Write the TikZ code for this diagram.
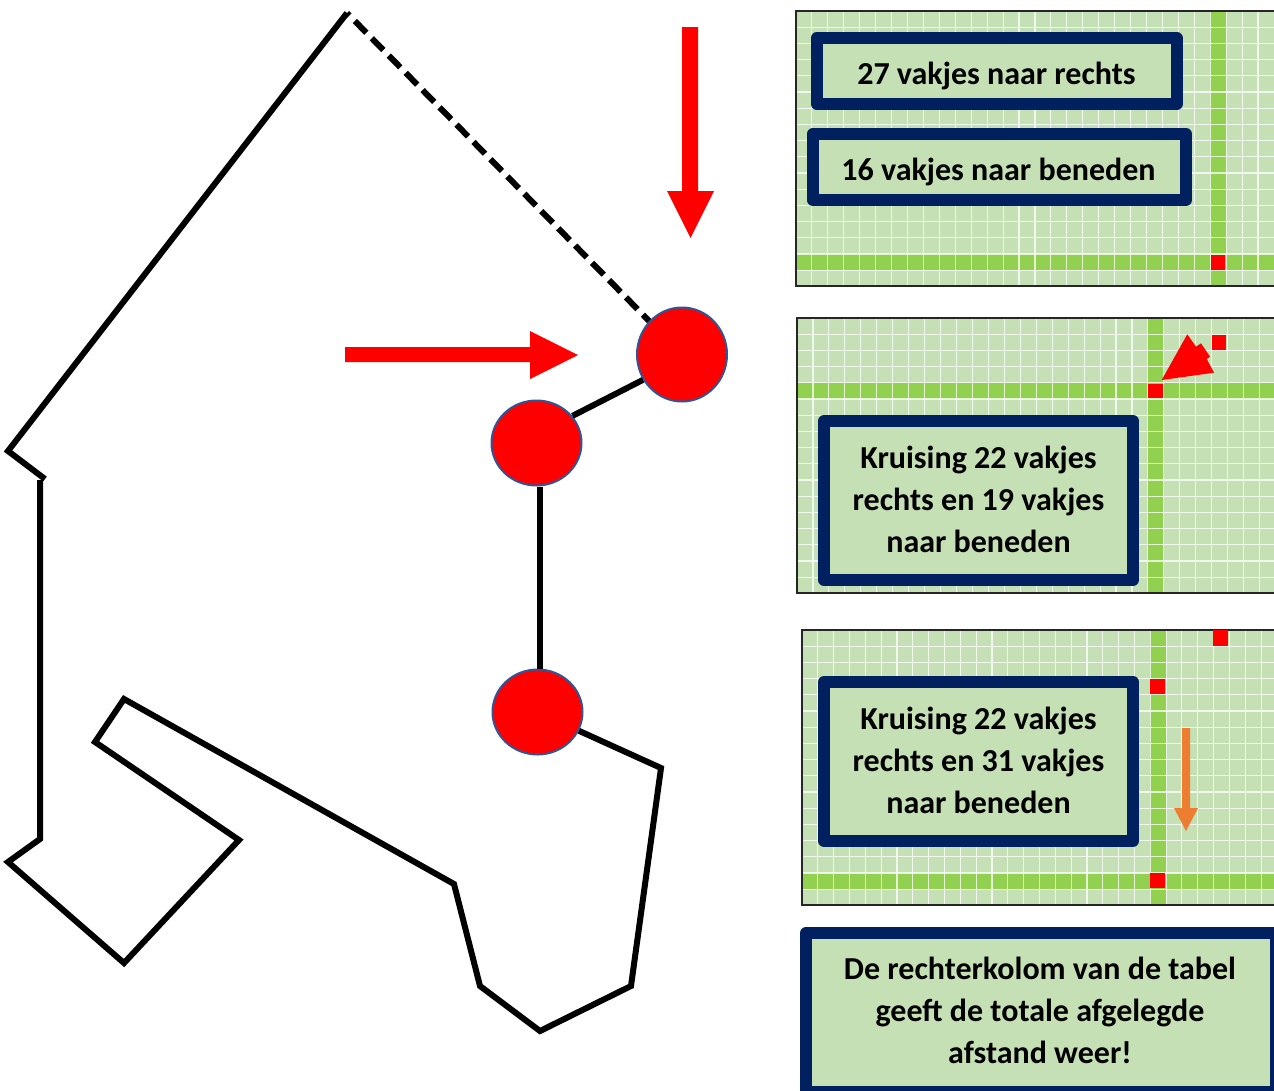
\documentclass[tikz,border=0pt]{standalone}
\usepackage{fontspec}
\setmainfont{Carlito}
\usetikzlibrary{shapes.geometric}
\definecolor{navy}{HTML}{002060}
\definecolor{pale}{HTML}{C5E0B4}
\definecolor{band}{HTML}{92D050}
\definecolor{ringblue}{HTML}{2F5597}
\definecolor{orangearrow}{HTML}{ED7D31}
\tikzset{
  route/.style={line width=6pt,line join=miter,line cap=butt},
  dashroute/.style={route,dash pattern=on 16.5pt off 7.7pt,dash phase=13pt},
  stopdot/.style={ellipse,draw=ringblue,line width=2pt,fill=red,inner sep=0pt,minimum width=89pt},
  infobox/.style={draw=navy,fill=pale,line width=12pt,line join=round,inner sep=0pt,
    align=center,font=\bfseries\fontsize{32}{42}\selectfont,text=black},
  boxtext/.style={align=center,font=\bfseries\fontsize{32}{42}\selectfont,text=black},
  gridline/.style={white,line width=1.1pt,opacity=.75},
  panelframe/.style={draw=black!85,line width=2pt},
  redcell/.style={fill=red},
  blockred/.style={fill=red},
}
% x0 y0 pitchx pitchy greencol greenrow lastcol
\newcommand{\gridpanel}[7]{%
  \fill[pale] (#1,#2) rectangle (1280,#2+17*#4);
  \fill[band] (#1+#5*#3,#2) rectangle (#1+#5*#3+#3,#2+17*#4);
  \fill[band] (#1,#2+#6*#4) rectangle (1280,#2+#6*#4+#4);
  \foreach \k in {1,...,#7} {\draw[gridline] (#1+\k*#3,#2) -- (#1+\k*#3,#2+17*#4);}
  \foreach \k in {1,...,16} {\draw[gridline] (#1,#2+\k*#4) -- (1280,#2+\k*#4);}
  \draw[panelframe] (#1,#2) rectangle (1280,#2+17*#4);
}
\begin{document}
\begin{tikzpicture}[x=1pt,y=-1pt]
\useasboundingbox (0,0) rectangle (1274,1090);

% route vertices
\coordinate (a) at (347,13);
\coordinate (b) at (8,451);
\coordinate (c) at (45,479);
\coordinate (d) at (40,480);
\coordinate (e) at (40,839);
\coordinate (f) at (8,862);
\coordinate (g) at (124,963);
\coordinate (h) at (239,840);
\coordinate (i) at (95,742);
\coordinate (j) at (124,699);
\coordinate (k) at (454,884);
\coordinate (l) at (480,986);
\coordinate (m) at (540,1031);
\coordinate (n) at (631,986);
\coordinate (o) at (661,768);

% stops
\node[stopdot,minimum height=94pt,minimum width=90pt] (s1) at (682,354.5) {};
\node[stopdot,minimum height=85pt,minimum width=90pt] (s2) at (536.5,443) {};
\node[stopdot,minimum height=85pt,minimum width=90pt] (s3) at (537.5,712) {};

% route
\draw[route] (a) -- (b) -- (c);
\draw[route] (d) -- (e) -- (f) -- (g) -- (h) -- (i) -- (j) -- (k) -- (l) -- (m) -- (n) -- (o) -- (s3);
\draw[route] (s2.37) -- (s1.213);
\draw[route] ([xshift=3pt]s2.south) -- ([xshift=2pt]s3.north);
\draw[dashroute] (a) -- (s1);

% big arrows
\fill[blockred] (682,27) -- (698,27) -- (698,191) -- (714,191) -- (690.5,238) -- (667,191) -- (682,191) -- cycle;
\fill[blockred] (345,347) -- (530,347) -- (530,331) -- (578,355) -- (530,379) -- (530,362) -- (345,362) -- cycle;

% panel 1
\gridpanel{796}{11}{15.93}{16.2}{26}{15}{29}
\fill[redcell] (1211,255) rectangle (1225,270);
\node[infobox,minimum width=360pt,minimum height=66pt] (t1) at (996.7,71) {};
\node[boxtext] (l1) at (996.5,76) {27 vakjes naar rechts};
\node[infobox,minimum width=373pt,minimum height=66pt] (t2) at (999.3,167) {};
\node[boxtext] (l2) at (998.5,172) {16 vakjes naar beneden};

% panel 2
\gridpanel{797}{318}{15.95}{16.2}{22}{4}{29}
\fill[redcell] (1148,384) rectangle (1163,398);
\fill[redcell] (1212,335) rectangle (1226,350);
\fill[blockred] (1161.7,380) -- (1187.3,334.3) -- (1196,346.7) -- (1201,343.3) -- (1210,356.7) -- (1206.7,359) -- (1214,372.7) -- cycle;
\node[infobox,minimum width=309pt,minimum height=159pt] (t3) at (978.5,500.5) {};
\node[boxtext] (l3) at (978.5,499.5) {Kruising 22 vakjes\\rechts en 19 vakjes\\naar beneden};

% panel 3
\gridpanel{802}{630}{15.83}{16.2}{22}{15}{29}
\fill[redcell] (1150,873) rectangle (1165,888);
\fill[redcell] (1150,679) rectangle (1165,694);
\fill[redcell] (1213,630) rectangle (1228,646);
\fill[orangearrow] (1182,728) -- (1190,728) -- (1190,808) -- (1198,808) -- (1186,831) -- (1174,808) -- (1182,808) -- cycle;
\node[infobox,minimum width=309pt,minimum height=159pt] (t4) at (978.5,761.5) {};
\node[boxtext] (l4) at (978.5,760.8) {Kruising 22 vakjes\\rechts en 31 vakjes\\naar beneden};

% closing note
\node[infobox,minimum width=470pt,minimum height=159pt] (t5) at (1041,1012.5) {};
\node[boxtext] (l5) at (1040,1010.5) {De rechterkolom van de tabel\\geeft de totale afgelegde\\afstand weer!};
\end{tikzpicture}
\end{document}
